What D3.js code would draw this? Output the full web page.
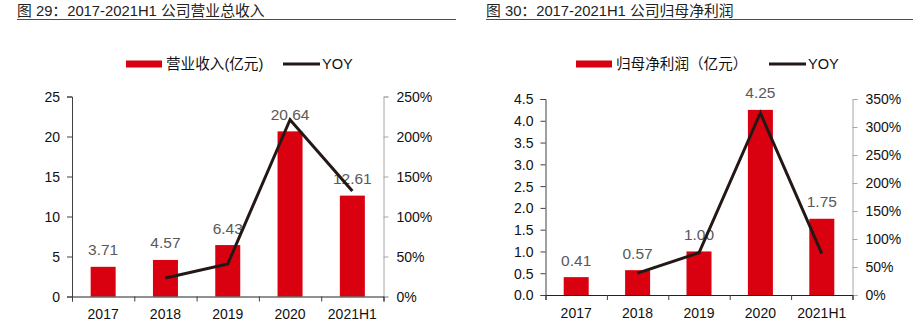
<!DOCTYPE html>
<html><head><meta charset="utf-8">
<script src="https://cdn.jsdelivr.net/npm/d3@7"></script>
<style>
body{margin:0;background:#fff;}
svg{display:block;font-family:"Liberation Sans",Arial,sans-serif;}
</style></head>
<body>
<svg id="c" width="913" height="326"></svg>
<script>
const categories = ["2017","2018","2019","2020","2021H1"];
const revenue = [3.71,4.57,6.43,20.64,12.61];
const revenueYoy = [null,0.232,0.407,2.21,1.32];
const revenueLeftTicks = [0,5,10,15,20,25];
const revenueRightTicks = [0,0.5,1,1.5,2,2.5];
const profit = [0.41,0.57,1.00,4.25,1.75];
const profitYoy = [null,0.39,0.754,3.25,0.74];
const profitLeftTicks = [0,0.5,1,1.5,2,2.5,3,3.5,4,4.5];
const profitRightTicks = [0,0.5,1,1.5,2,2.5,3,3.5];

const svg = d3.select("#c");
const RED = "#d9000f", LINE = "#231815", CJK = "'Liberation Sans','Noto Sans CJK SC',sans-serif";

function chart(o){
  const g = svg.append("g");
  // title
  g.append("text").attr("x",o.tx).attr("y",16).attr("font-size",14.8).attr("fill","#222")
   .style("font-family",CJK).text(o.title);
  g.append("line").attr("x1",o.tx).attr("x2",o.tx2).attr("y1",19.5).attr("y2",19.5)
   .attr("stroke","#c8161d").attr("stroke-width",1.2);
  // legend
  g.append("rect").attr("x",o.lx).attr("y",60.5).attr("width",o.lw).attr("height",7).attr("fill",RED);
  g.append("text").attr("x",o.lx+o.lw+4).attr("y",68.5).attr("font-size",14.6).attr("fill","#111")
   .style("font-family",CJK).text(o.legend);
  g.append("line").attr("x1",o.ly).attr("x2",o.ly+37).attr("y1",64).attr("y2",64).attr("stroke",LINE).attr("stroke-width",3);
  g.append("text").attr("x",o.ly+39).attr("y",68.5).attr("font-size",14.6).attr("fill","#111").text("YOY");

  const x = d3.scaleBand().domain(categories).range([o.x0,o.x1]);
  const y = d3.scaleLinear().domain([0,o.lmax]).range([o.y0,o.ytop]);
  const y2 = d3.scaleLinear().domain([0,o.rmax]).range([o.y0,o.ytop]);

  // bars
  const bw = 25;
  g.selectAll("rect.bar").data(o.values).join("rect").attr("class","bar")
   .attr("x",(d,i)=>x(categories[i])+x.bandwidth()/2-bw/2)
   .attr("width",bw).attr("y",d=>y(d)).attr("height",d=>o.y0-y(d)).attr("fill",RED);
  // labels
  g.selectAll("text.val").data(o.values).join("text").attr("class","val")
   .attr("x",(d,i)=>x(categories[i])+x.bandwidth()/2).attr("y",d=>y(d)-11.5)
   .attr("text-anchor","middle").attr("font-size",15.5).attr("fill","#595959")
   .text(d=>d.toFixed(2));

  // axes
  const la = d3.axisLeft(y).tickValues(o.lticks).tickSize(5).tickFormat(o.lfmt);
  const lg = g.append("g").attr("transform",`translate(${o.x0},0)`).call(la);
  lg.select(".domain").attr("stroke","#404040");
  lg.selectAll(".tick line").attr("stroke","#404040");
  lg.selectAll(".tick text").attr("font-size",14).attr("fill","#111").attr("x",-12).attr("dy","0.35em")
    .style("font-family","'Liberation Sans',Arial,sans-serif");

  const ra = d3.axisRight(y2).tickValues(o.rticks).tickSize(5).tickFormat(d3.format(".0%"));
  const rg = g.append("g").attr("transform",`translate(${o.x1},0)`).call(ra);
  rg.select(".domain").attr("stroke","#a6a6a6");
  rg.selectAll(".tick line").attr("stroke","#a6a6a6");
  rg.selectAll(".tick text").attr("font-size",14).attr("fill","#111").attr("x",13).attr("dy","0.35em")
    .style("font-family","'Liberation Sans',Arial,sans-serif");

  const bx = d3.scaleLinear().domain([0,5]).range([o.x0,o.x1]);
  const ba = d3.axisBottom(bx).tickValues([0,1,2,3,4,5]).tickSize(5).tickFormat("");
  const bg = g.append("g").attr("transform",`translate(0,${o.y0})`).call(ba);
  bg.select(".domain").attr("stroke","#222");
  bg.selectAll(".tick line").attr("stroke","#404040");
  g.selectAll("text.cat").data(categories).join("text").attr("class","cat")
   .attr("x",d=>x(d)+x.bandwidth()/2).attr("y",o.y0+22.5).attr("text-anchor","middle")
   .attr("font-size",14).attr("fill","#111").text(d=>d);

  // line
  const pts = o.yoy.map((v,i)=>[categories[i],v]).filter(d=>d[1]!==null);
  g.append("path").datum(pts)
   .attr("d",d3.line().x(d=>x(d[0])+x.bandwidth()/2).y(d=>y2(d[1])))
   .attr("fill","none").attr("stroke",LINE).attr("stroke-width",3).attr("stroke-linejoin","miter");
}

chart({title:"图 29：2017-2021H1 公司营业总收入",tx:17,tx2:456,
  legend:"营业收入(亿元)",lx:126,lw:36,ly:283,
  x0:72,x1:383.5,y0:296.5,ytop:96.5,lmax:25,rmax:2.5,
  values:revenue,yoy:revenueYoy,lticks:revenueLeftTicks,rticks:revenueRightTicks,lfmt:d3.format("d")});
chart({title:"图 30：2017-2021H1 公司归母净利润",tx:486,tx2:913,
  legend:"归母净利润（亿元）",lx:576,lw:36,ly:769,
  x0:545.5,x1:852.5,y0:295,ytop:99,lmax:4.5,rmax:3.5,
  values:profit,yoy:profitYoy,lticks:profitLeftTicks,rticks:profitRightTicks,lfmt:d3.format(".1f")});
</script>
</body></html>
